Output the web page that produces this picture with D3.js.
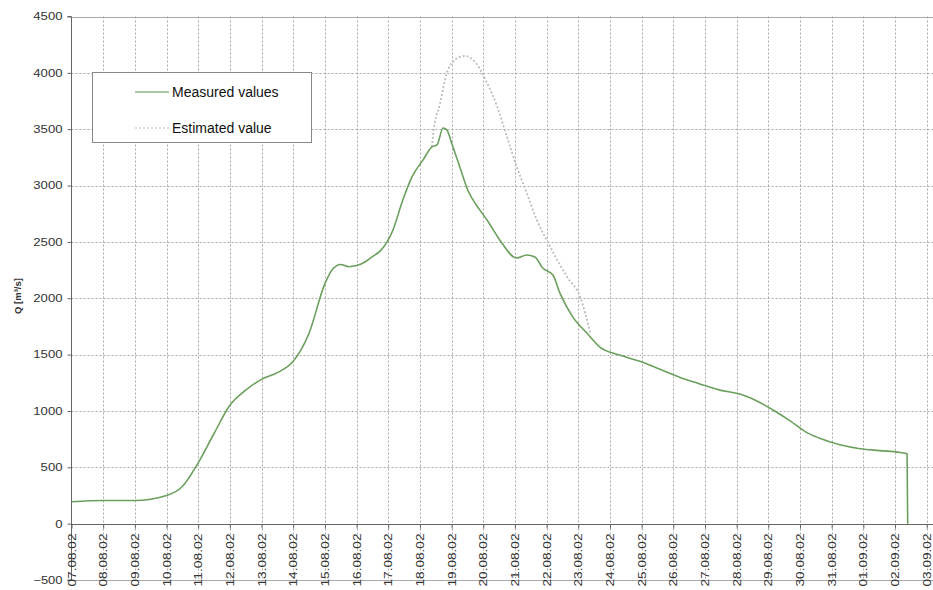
<!DOCTYPE html>
<html>
<head>
<meta charset="utf-8">
<script src="https://cdn.jsdelivr.net/npm/d3@7"></script>
<style>
  html, body { margin: 0; padding: 0; background: #fff; }
  svg { display: block; font-family: Arial, "Liberation Sans", sans-serif; }
</style>
</head>
<body>
<svg id="chart" width="933" height="590"></svg>
<script>
// Day labels along the x axis (one per day, 07.08.02 .. 03.09.02)
const dayLabels = ["07.08.02","08.08.02","09.08.02","10.08.02","11.08.02","12.08.02","13.08.02",
  "14.08.02","15.08.02","16.08.02","17.08.02","18.08.02","19.08.02","20.08.02","21.08.02",
  "22.08.02","23.08.02","24.08.02","25.08.02","26.08.02","27.08.02","28.08.02","29.08.02",
  "30.08.02","31.08.02","01.09.02","02.09.02","03.09.02"];

const yTicks = [-500, 0, 500, 1000, 1500, 2000, 2500, 3000, 3500, 4000, 4500];

// Measured discharge: time in days since 07.08.02, Q in m³/s
const measuredDays = [0, 1, 2, 3, 3.5, 4, 4.5, 5, 5.5, 6, 6.5, 7, 7.5, 8, 8.25, 8.5, 8.75, 9, 9.25,
  9.5, 9.75, 10.15, 10.46, 10.75, 11.1, 11.38, 11.54, 11.73, 11.85, 12.0, 12.26, 12.51, 12.9,
  13.12, 13.52, 14.06, 14.37, 14.63, 14.88, 15.2, 15.42, 15.83, 16.27, 16.68, 17.25, 17.95,
  18.58, 19.2, 19.84, 20.47, 21.1, 21.7, 22.2, 22.7, 23.2, 23.6, 24.26, 24.9, 25.5, 26.16,
  26.38, 26.4];
const measuredQ = [195, 205, 205, 250, 330, 540, 800, 1050, 1185, 1280, 1340, 1440, 1690, 2130,
  2260, 2300, 2280, 2290, 2320, 2370, 2420, 2606, 2872, 3077, 3228, 3343, 3360, 3510, 3494,
  3378, 3165, 2960, 2780, 2695, 2517, 2357, 2384, 2366, 2268, 2206, 2046, 1833, 1691, 1567,
  1500, 1440, 1370, 1300, 1240, 1185, 1150, 1080, 1000, 910, 810, 760, 700, 665, 648, 632,
  620, 0];

// Estimated discharge without the flood-plain losses
const estimatedDays = [11.38, 11.42, 11.63, 11.85, 12.17, 12.42, 12.73, 13.12, 13.44, 13.75,
  14.06, 14.37, 14.69, 15.0, 15.65, 16.06, 16.38];
const estimatedQ = [3343, 3460, 3720, 4000, 4130, 4150, 4100, 3910, 3700, 3430, 3165, 2935,
  2695, 2517, 2188, 2010, 1690];

const seriesNames = ["Measured values", "Estimated value"];

const svg = d3.select("#chart");
const plotLeft = 71.5, plotRight = 926.7, plotTop = 16.5, plotBottom = 580;

const x = d3.scaleLinear().domain([0, dayLabels.length - 1]).range([plotLeft, plotRight]);
const y = d3.scaleLinear().domain([-500, 4500]).range([plotBottom, plotTop]);

// Grid lines (dotted), with solid frame lines at the top and bottom of the value range
const grid = svg.append("g").attr("stroke", "#a9a9a9").attr("stroke-width", 1);
grid.selectAll("line.v").data(dayLabels.slice(1)).join("line")
  .attr("stroke-dasharray", "2,2")
  .attr("x1", (d, i) => Math.round(x(i + 1)) + 0.5)
  .attr("x2", (d, i) => Math.round(x(i + 1)) + 0.5)
  .attr("y1", plotTop).attr("y2", plotBottom);
grid.selectAll("line.h").data(yTicks).join("line")
  .attr("stroke-dasharray", d => (d === -500 || d === 4500) ? null : "2,2")
  .attr("x1", plotLeft).attr("x2", 933)
  .attr("y1", d => Math.round(y(d)) + 0.5).attr("y2", d => Math.round(y(d)) + 0.5);

// Y axis
const yAxis = d3.axisLeft(y).tickValues(yTicks).tickFormat(d3.format("d"))
  .tickSize(4).tickPadding(5);
const gy = svg.append("g").attr("transform", `translate(${plotLeft},0)`).call(yAxis);
gy.select(".domain").attr("stroke", "#666").attr("d", `M-4,${plotTop}H0V${plotBottom}H-4`);
gy.selectAll(".tick line").attr("stroke", "#666");
gy.selectAll("text").attr("font-size", 10.5).attr("fill", "#333")
  .attr("textLength", d => String(d).length * 7.3).attr("lengthAdjust", "spacingAndGlyphs");

// X axis on the zero line, labels rotated
const xAxis = d3.axisBottom(x).tickValues(d3.range(dayLabels.length))
  .tickFormat(i => dayLabels[i]).tickSize(4).tickPadding(4);
const gx = svg.append("g").attr("transform", `translate(0,${Math.round(y(0)) + 0.5})`).call(xAxis);
gx.select(".domain").attr("stroke", "#666").attr("d", `M${plotLeft},0H933`);
gx.selectAll(".tick line").attr("stroke", "#666");
gx.selectAll("text")
  .attr("font-size", 10).attr("fill", "#333")
  .attr("text-anchor", "end")
  .attr("dy", "0.35em")
  .attr("textLength", 53).attr("lengthAdjust", "spacingAndGlyphs")
  .attr("transform", "translate(0,9) rotate(-90)")
  .attr("x", 0).attr("y", 0);

// Y axis title
svg.append("text")
  .attr("transform", `translate(21,296) rotate(-90)`)
  .attr("text-anchor", "middle")
  .attr("font-size", 9.5).attr("font-weight", "bold").attr("fill", "#333")
  .text("Q [m³/s]");

// Lines
const line = d3.line().x(d => x(d[0])).y(d => y(d[1])).curve(d3.curveMonotoneX);
const measured = measuredDays.map((d, i) => [d, measuredQ[i]]);
const estimated = estimatedDays.map((d, i) => [d, estimatedQ[i]]);

svg.append("path").datum(estimated)
  .attr("fill", "none").attr("stroke", "#bdbdbd").attr("stroke-width", 1.8)
  .attr("stroke-dasharray", "2,2")
  .attr("d", line);

svg.append("path").datum(measured)
  .attr("fill", "none").attr("stroke", "#6aa05c").attr("stroke-width", 1.6)
  .attr("d", line);

// Legend
const lg = svg.append("g");
lg.append("rect").attr("x", 92.5).attr("y", 72.5).attr("width", 219).attr("height", 70)
  .attr("fill", "#fff").attr("stroke", "#888");
const legendStyles = [
  { stroke: "#5f8f52", dash: null },
  { stroke: "#bdbdbd", dash: "2,2" }
];
seriesNames.forEach((name, i) => {
  const ly = 92 + i * 36;
  lg.append("line").attr("x1", 135).attr("x2", 169).attr("y1", ly).attr("y2", ly)
    .attr("stroke", legendStyles[i].stroke).attr("stroke-width", 1.2)
    .attr("stroke-dasharray", legendStyles[i].dash);
  lg.append("text").attr("x", 172).attr("y", ly).attr("dy", "0.35em")
    .attr("font-size", 14).attr("fill", "#111").text(name);
});
</script>
</body>
</html>
